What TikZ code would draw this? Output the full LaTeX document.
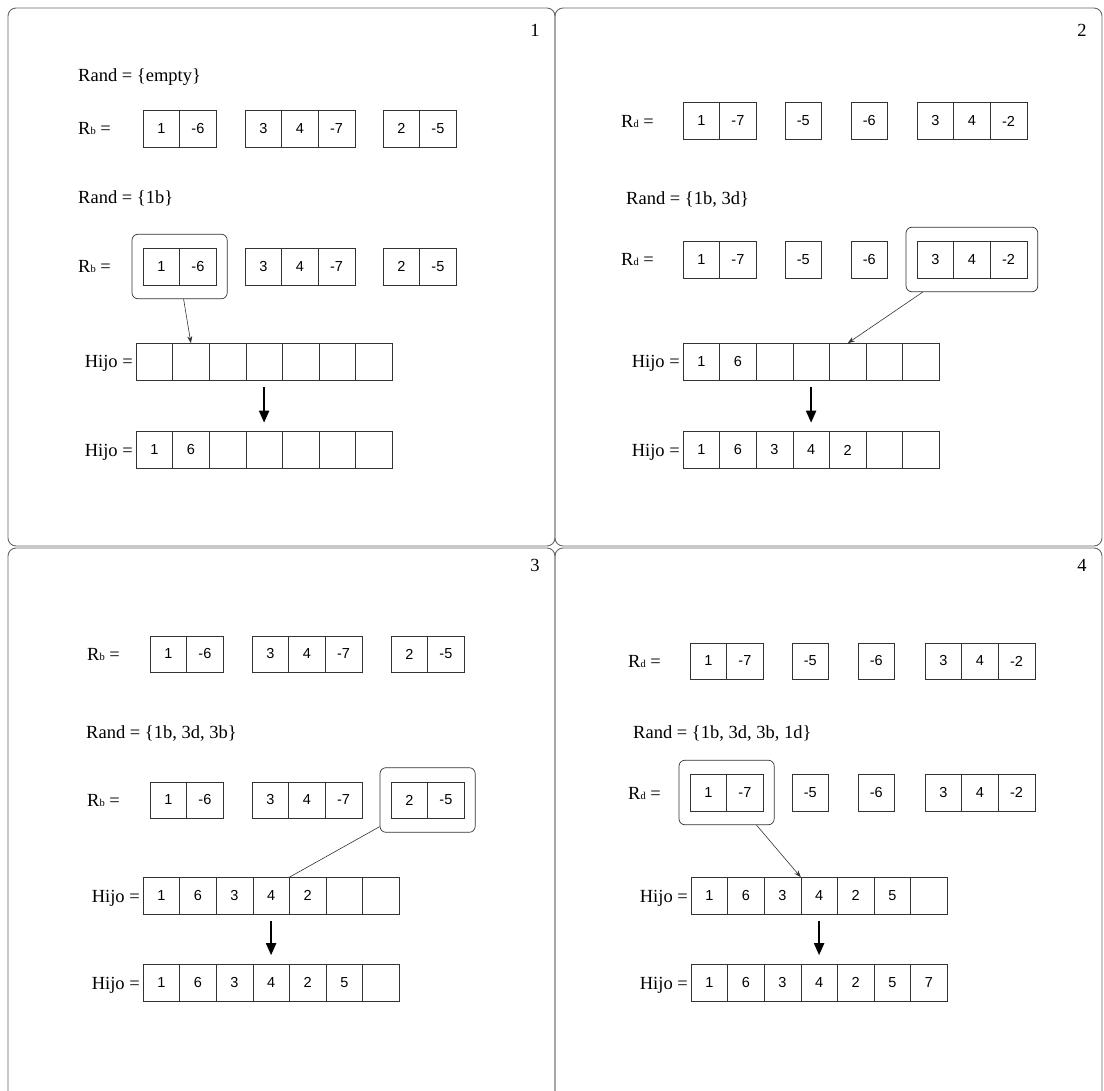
\documentclass[tikz,border=0pt]{standalone}
\usepackage{fontspec}
\setmainfont{Liberation Serif}
\newfontfamily\cellfont{Liberation Sans}
\usetikzlibrary{positioning,arrows.meta,fit,calc}
\definecolor{ink}{HTML}{333333}
\definecolor{frame}{HTML}{666666}

% one row of boxes: name, left x, centre y, values
\newcommand{\cellrow}[4]{%
  \foreach \v [count=\i] in {#4} {\node[cell] (#1-\i) at ({#2+36.6*\i-18.3},#3) {\v};}}
\newcommand{\lowsub}[1]{{\fontsize{10.5}{10.5}\selectfont #1}}

\begin{document}
\begin{tikzpicture}[x=1pt,y={(0pt,-1pt)},
  font=\fontsize{18.5}{20}\selectfont,
  cell/.style={draw=ink,minimum width=36.6pt,minimum height=36.6pt,inner sep=0pt,outer sep=0pt,font=\cellfont\fontsize{14.5}{16}\selectfont},
  lbl/.style={anchor=base west,inner sep=0pt},
  hj/.style={anchor=base east,inner sep=0pt},
  pnl/.style={draw=frame,rounded corners=8pt,line width=0.9pt},
  hl/.style={draw=ink,rounded corners=6pt,inner xsep=11pt,inner ysep=14pt,line width=0.7pt},
  a/.style={-{Stealth[length=7pt,width=5pt]},ink,line width=0.6pt},
  big/.style={-{Triangle[length=12pt,width=10pt]},line width=2pt,black}
]
\useasboundingbox (0,0) rectangle (1104,1091);
\clip (0,0) rectangle (1104,1091);
\fill[white] (0,0) rectangle (1104,1091);

% frames
\draw[pnl] (8,8) rectangle (555,546);
\draw[pnl] (555,8) rectangle (1102,546);
\draw[pnl] (8,548) rectangle (555,1100);
\draw[pnl] (555,548) rectangle (1102,1100);
\node[anchor=base] (n1) at (535,37) {1};
\node[anchor=base] (n2) at (1082,37) {2};
\node[anchor=base] (n3) at (535,571) {3};
\node[anchor=base] (n4) at (1082,571) {4};

% panel 1
\node[lbl] (p1r0) at (78,82) {Rand = \{empty\}};
\node[lbl] (p1l1) at (78,135) {R\lowsub{b} =};
\cellrow{p1a}{143}{128.5}{1,-6}
\cellrow{p1b}{245}{128.5}{3,4,-7}
\cellrow{p1c}{383}{128.5}{2,-5}
\node[lbl] (p1r1) at (78,204) {Rand = \{1b\}};
\node[lbl] (p1l2) at (78,273) {R\lowsub{b} =};
\cellrow{p1d}{143}{266.5}{1,-6}
\cellrow{p1e}{245}{266.5}{3,4,-7}
\cellrow{p1f}{383}{266.5}{2,-5}
\node[hl,fit=(p1d-1)(p1d-2)] (p1sel) {};
\cellrow{p1h}{136}{361.5}{{},{},{},{},{},{},{}}
\cellrow{p1k}{136}{450}{1,6,{},{},{},{},{}}
\node[hj] (p1hj) at ([xshift=-3pt,yshift=-6.5pt]p1h-1.west) {Hijo =};
\node[hj] (p1kj) at ([xshift=-3pt,yshift=-6.5pt]p1k-1.west) {Hijo =};
\draw[a] ($(p1sel.south)+(4,0)$) -- (p1h-2.north);
\draw[big] ([yshift=-7pt]p1h-4.south) -- ([yshift=9pt]p1k-4.north);

% panel 2
\node[lbl] (p2l1) at (621,127.5) {R\lowsub{d} =};
\cellrow{p2a}{683}{121}{1,-7}
\cellrow{p2b}{785}{121}{-5}
\cellrow{p2c}{851}{121}{-6}
\cellrow{p2d}{917}{121}{3,4,-2}
\node[lbl] (p2r1) at (626,205) {Rand = \{1b, 3d\}};
\node[lbl] (p2l2) at (621,266) {R\lowsub{d} =};
\cellrow{p2e}{683}{259.5}{1,-7}
\cellrow{p2f}{785}{259.5}{-5}
\cellrow{p2g}{851}{259.5}{-6}
\cellrow{p2m}{917}{259.5}{3,4,-2}
\node[hl,fit=(p2m-1)(p2m-3)] (p2sel) {};
\cellrow{p2h}{683}{361.5}{1,6,{},{},{},{},{}}
\cellrow{p2k}{683}{450}{1,6,3,4,2,{},{}}
\node[hj] (p2hj) at ([xshift=-3pt,yshift=-6.5pt]p2h-1.west) {Hijo =};
\node[hj] (p2kj) at ([xshift=-3pt,yshift=-6.5pt]p2k-1.west) {Hijo =};
\draw[a] ($(p2sel.south west)+(17,0)$) -- (p2h-5.north);
\draw[big] ([yshift=-7pt]p2h-4.south) -- ([yshift=9pt]p2k-4.north);

% panel 3
\node[lbl] (p3l1) at (87,660.5) {R\lowsub{b} =};
\cellrow{p3a}{150}{654}{1,-6}
\cellrow{p3b}{252}{654}{3,4,-7}
\cellrow{p3c}{391}{654}{2,-5}
\node[lbl] (p3r1) at (86,738) {Rand = \{1b, 3d, 3b\}};
\node[lbl] (p3l2) at (87,806.5) {R\lowsub{b} =};
\cellrow{p3d}{150}{800}{1,-6}
\cellrow{p3e}{252}{800}{3,4,-7}
\cellrow{p3f}{391}{800}{2,-5}
\node[hl,fit=(p3f-1)(p3f-2)] (p3sel) {};
\cellrow{p3h}{143}{895.5}{1,6,3,4,2,{},{}}
\cellrow{p3k}{143}{982.5}{1,6,3,4,2,5,{}}
\node[hj] (p3hj) at ([xshift=-3pt,yshift=-6.5pt]p3h-1.west) {Hijo =};
\node[hj] (p3kj) at ([xshift=-3pt,yshift=-6.5pt]p3k-1.west) {Hijo =};
\draw[ink,line width=0.6pt] ($(p3sel.south west)+(0,-6)$) -- (p3h-4.north east);
\draw[big] ([yshift=-7pt]p3h-4.south) -- ([yshift=9pt]p3k-4.north);

% panel 4
\node[lbl] (p4l1) at (628,667.5) {R\lowsub{d} =};
\cellrow{p4a}{690}{661}{1,-7}
\cellrow{p4b}{792}{661}{-5}
\cellrow{p4c}{858}{661}{-6}
\cellrow{p4d}{925}{661}{3,4,-2}
\node[lbl] (p4r1) at (633,738) {Rand = \{1b, 3d, 3b, 1d\}};
\node[lbl] (p4l2) at (628,799) {R\lowsub{d} =};
\cellrow{p4e}{690}{792.5}{1,-7}
\cellrow{p4f}{792}{792.5}{-5}
\cellrow{p4g}{858}{792.5}{-6}
\cellrow{p4m}{925}{792.5}{3,4,-2}
\node[hl,fit=(p4e-1)(p4e-2)] (p4sel) {};
\cellrow{p4h}{691}{895.5}{1,6,3,4,2,5,{}}
\cellrow{p4k}{691}{982.5}{1,6,3,4,2,5,7}
\node[hj] (p4hj) at ([xshift=-3pt,yshift=-6.5pt]p4h-1.west) {Hijo =};
\node[hj] (p4kj) at ([xshift=-3pt,yshift=-6.5pt]p4k-1.west) {Hijo =};
\draw[a] ($(p4sel.south east)+(-18,0)$) -- (p4h-3.north east);
\draw[big] ([yshift=-7pt]p4h-4.south) -- ([yshift=9pt]p4k-4.north);
\end{tikzpicture}
\end{document}
